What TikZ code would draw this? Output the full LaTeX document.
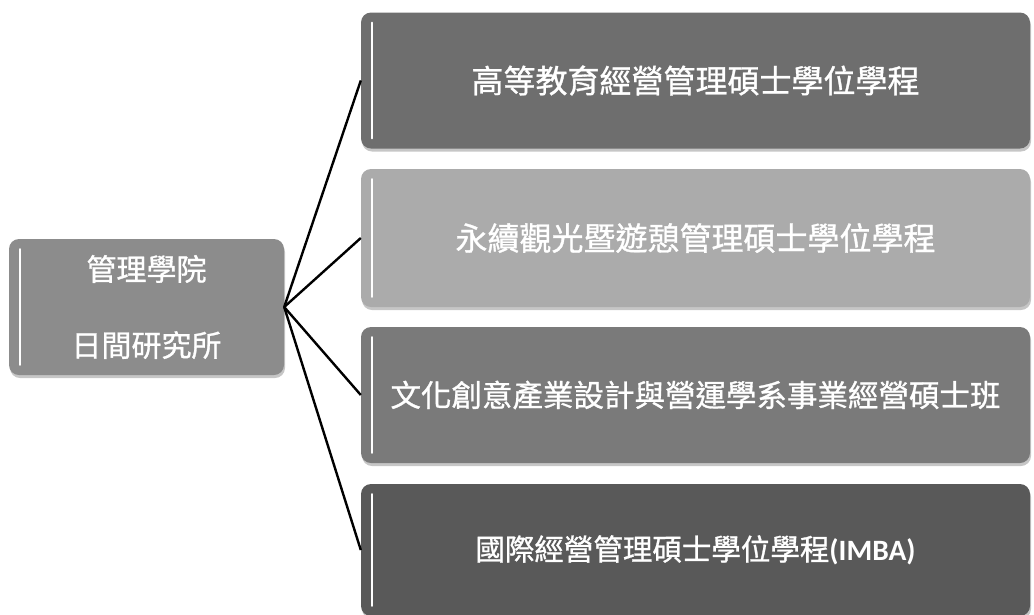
\documentclass[tikz,border=0pt]{standalone}
\usepackage{fontspec}
\newfontfamily\cjk[FakeBold=1]{Noto Sans CJK TC}
\newfontfamily\carlito{Carlito}
\usetikzlibrary{shadows}

\begin{document}
\begin{tikzpicture}[x=1pt, y=-1pt,
    box/.style={rounded corners=10pt, inner sep=0pt, text=white,
      drop shadow={shadow xshift=1pt, shadow yshift=-3pt, opacity=.45, fill=black!50},
      path picture={\draw[white, line width=1.8pt, line cap=round]
        ([xshift=11pt, yshift=-10pt]path picture bounding box.north west) --
        ([xshift=11pt, yshift=10pt]path picture bounding box.south west);}},
    prog/.style={box, minimum width=669pt, minimum height=136pt}]
    \useasboundingbox (0, 0) rectangle (1034, 614);
    % 左邊
    \node[box, fill=black!45, minimum width=275pt, minimum height=136pt, align=center,
      font=\cjk\fontsize{30}{76}\selectfont] (yuan) at (146.5, 307) {管理學院\\日間研究所};
    % 右邊四個學程
    \node[prog, fill=black!57, font=\cjk\fontsize{32}{38}\selectfont] (p1) at (695.5, 80.5) {高等教育經營管理碩士學位學程};
    \node[prog, fill=black!33, minimum height=138pt, font=\cjk\fontsize{32}{38}\selectfont] (p2) at (695.5, 238) {永續觀光暨遊憩管理碩士學位學程};
    \node[prog, fill=black!52, font=\cjk\fontsize{30.5}{36}\selectfont] (p3) at (695.5, 395) {文化創意產業設計與營運學系事業經營碩士班};
    \node[prog, fill=black!65, minimum height=132pt, font=\cjk\fontsize{29.5}{34}\selectfont] (p4) at (695.5, 550) {國際經營管理碩士學位學程{\carlito\bfseries(IMBA)}};

    \foreach \n in {p1, p2, p3, p4}
        \draw[line width=2.4pt] (yuan.east) -- (\n.west);
\end{tikzpicture}
\end{document}
